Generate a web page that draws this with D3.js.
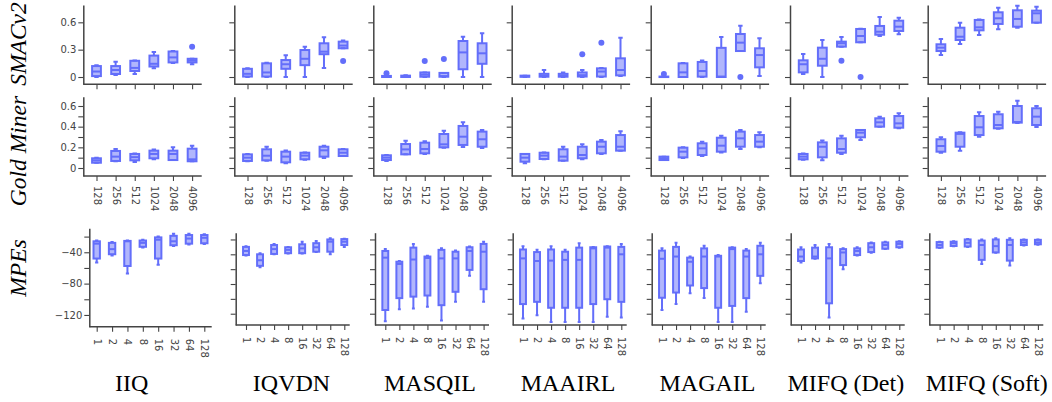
<!DOCTYPE html>
<html>
<head>
<meta charset="utf-8">
<script src="https://cdn.jsdelivr.net/npm/d3@7"></script>
<style>
body { margin: 0; background: #fff; }
svg { display: block; }
</style>
</head>
<body>
<div id="chart"></div>
<script>
var methods = ['IIQ', 'IQVDN', 'MASQIL', 'MAAIRL', 'MAGAIL', 'MIFQ (Det)', 'MIFQ (Soft)'];
var envNames = ['SMACv2', 'Gold Miner', 'MPEs'];
var datasetSizes = ['128', '256', '512', '1024', '2048', '4096'];
var agentCounts = ['1', '2', '4', '8', '16', '32', '64', '128'];

// box stats per method: [low whisker, q1, median, q3, high whisker]
var smacv2Stats = [
    [[0.0,0.01,0.06,0.12,0.13],[0.022,0.033,0.077,0.12,0.168],[0.033,0.066,0.10,0.178,0.18],[0.095,0.115,0.145,0.235,0.275],[0.155,0.16,0.215,0.28,0.285],[0.14,0.16,0.18,0.20,0.20]],
    [[0.0,0.005,0.035,0.09,0.095],[0.0,0.005,0.05,0.15,0.157],[0.0,0.09,0.14,0.186,0.24],[0.0,0.13,0.2,0.296,0.333],[0.1,0.25,0.278,0.37,0.436],[0.315,0.315,0.345,0.388,0.40]],
    [[0,0,0.003,0.012,0.015],[0,0,0.005,0.015,0.02],[0,0.003,0.025,0.05,0.05],[0,0.003,0.01,0.045,0.045],[0.0,0.085,0.27,0.395,0.442],[0.0,0.145,0.26,0.37,0.48]],
    [[0,0.002,0.008,0.015,0.015],[0,0.003,0.015,0.035,0.077],[0,0.003,0.015,0.035,0.05],[0,0.005,0.02,0.05,0.076],[0,0.005,0.06,0.095,0.10],[0.01,0.018,0.077,0.205,0.432]],
    [[0,0,0,0.005,0.005],[0,0.0,0.051,0.15,0.155],[0,0.004,0.066,0.165,0.18],[0,0.0,0.005,0.32,0.44],[0.285,0.285,0.377,0.472,0.563],[0.01,0.106,0.241,0.315,0.425]],
    [[0.033,0.051,0.14,0.183,0.252],[0,0.124,0.2,0.322,0.406],[0.333,0.333,0.37,0.388,0.44],[0.381,0.381,0.45,0.527,0.53],[0.45,0.464,0.497,0.56,0.659],[0.469,0.505,0.552,0.618,0.651]],
    [[0.241,0.285,0.322,0.359,0.417],[0.362,0.406,0.442,0.541,0.596],[0.461,0.512,0.545,0.626,0.63],[0.523,0.582,0.644,0.71,0.761],[0.541,0.552,0.637,0.732,0.783],[0.596,0.596,0.699,0.728,0.772]]
];
// [method index, category, value]
var smacv2Outliers = [
    [0,'4096',0.333],[1,'4096',0.176],[2,'128',0.04],[2,'512',0.176],[2,'1024',0.198],
    [3,'1024',0.249],[3,'2048',0.377],[4,'128',0.033],[4,'2048',0.0],[5,'512',0.179],[5,'1024',0.0]
];

var goldMinerStats = [
    [[0.05,0.051,0.074,0.094,0.1],[0.065,0.068,0.11,0.165,0.184],[0.058,0.074,0.105,0.136,0.14],[0.084,0.094,0.136,0.168,0.18],[0.077,0.077,0.136,0.168,0.2],[0.065,0.065,0.084,0.187,0.216]],
    [[0.065,0.068,0.1,0.132,0.135],[0.07,0.074,0.119,0.181,0.206],[0.045,0.055,0.11,0.158,0.17],[0.08,0.084,0.12,0.148,0.15],[0.097,0.11,0.171,0.206,0.215],[0.116,0.116,0.148,0.181,0.185]],
    [[0.068,0.077,0.1,0.123,0.125],[0.132,0.132,0.18,0.232,0.264],[0.136,0.142,0.184,0.245,0.258],[0.195,0.2,0.229,0.329,0.361],[0.203,0.223,0.303,0.407,0.442],[0.194,0.206,0.278,0.352,0.368]],
    [[0.045,0.061,0.1,0.136,0.136],[0.085,0.087,0.12,0.148,0.15],[0.071,0.071,0.11,0.181,0.206],[0.085,0.094,0.126,0.206,0.229],[0.135,0.142,0.206,0.255,0.271],[0.168,0.168,0.206,0.319,0.355]],
    [[0.077,0.077,0.094,0.11,0.11],[0.097,0.103,0.158,0.197,0.2],[0.116,0.126,0.19,0.239,0.255],[0.15,0.158,0.216,0.293,0.313],[0.184,0.206,0.287,0.352,0.368],[0.2,0.206,0.255,0.319,0.345]],
    [[0.08,0.084,0.11,0.136,0.14],[0.074,0.103,0.206,0.248,0.265],[0.136,0.148,0.184,0.287,0.313],[0.271,0.297,0.342,0.368,0.368],[0.4,0.4,0.442,0.481,0.497],[0.384,0.39,0.432,0.503,0.529]],
    [[0.148,0.158,0.213,0.278,0.297],[0.168,0.206,0.33,0.342,0.345],[0.303,0.319,0.394,0.503,0.539],[0.38,0.384,0.416,0.52,0.545],[0.435,0.439,0.445,0.6,0.652],[0.397,0.416,0.497,0.578,0.6]]
];
var goldMinerOutliers = [];

var mpesStats = [
    [[-53,-48,-29,-26,-25],[-44,-42.5,-36,-28,-27],[-67,-57.5,-26,-25.5,-25],[-34,-33,-28,-25,-24],[-56,-48,-24,-21,-20],[-32,-31,-26,-19,-16.5],[-30,-29,-22.5,-18,-16.5],[-29.5,-28.5,-21.5,-18,-17]],
    [[-41.5,-41,-35.5,-30,-29],[-57.5,-55.5,-48,-40,-38.5],[-40,-39.5,-33,-27.5,-26],[-39,-38.5,-34,-30.5,-30],[-39,-38.5,-32,-26.5,-23],[-37,-36.5,-30.5,-25,-22],[-40,-36.5,-23,-20,-18.5],[-30,-27.5,-23,-19.5,-19]],
    [[-130,-115,-44.5,-35.5,-33],[-114,-99,-53,-50,-49],[-113,-97,-47,-31,-26],[-110.5,-95.5,-45,-43,-42],[-129,-108.5,-45.5,-34,-32],[-104,-90.5,-45.5,-36.5,-35],[-69,-61,-35.5,-30.5,-29.5],[-104,-87,-36.5,-26,-23]],
    [[-126.5,-107,-45.5,-33.5,-29],[-122,-104,-49,-37,-34],[-131,-112,-48.5,-33.5,-29],[-131,-112,-47.5,-36.5,-34],[-131,-112,-47.5,-31,-25],[-131,-107,-32,-30.5,-30],[-124,-100.5,-31,-29.5,-29],[-125,-104,-40,-30,-26]],
    [[-115,-98.5,-46,-35,-32],[-107,-91.5,-43,-30,-24.5],[-92.5,-82,-50,-44.5,-43],[-99,-85.5,-43,-32,-28.5],[-131,-112,-43,-42,-41],[-131,-109.5,-33,-31,-30.5],[-117.5,-99,-43,-35,-33],[-79,-69,-40,-28.5,-24.5]],
    [[-51,-49,-43,-33.5,-30.5],[-46,-45.5,-43,-31,-27.5],[-125,-106,-45.5,-30.5,-26],[-60,-54.5,-37.5,-33,-32],[-41.5,-41,-35.5,-32,-30.5],[-38,-37,-30.5,-25,-24],[-33,-32.5,-27.5,-24,-23],[-31,-30.5,-26,-23,-22.5]],
    [[-31.5,-31,-27.5,-23.5,-23],[-29,-28.8,-25,-23,-22.5],[-30,-29.5,-24.5,-20,-19.5],[-53,-47.5,-27.5,-21.5,-20],[-38,-37.5,-29,-20,-18.5],[-55,-48.5,-27.5,-20.5,-18.5],[-28,-27.5,-24,-20.5,-20],[-27,-26.5,-24,-20.5,-20]]
];
var mpesOutliers = [];

// y ticks per environment (all ticks, labelled ones)
var smacv2Ticks = [0, 0.3, 0.6], smacv2Labels = [0, 0.3, 0.6];
var goldMinerTicks = [0, 0.1, 0.2, 0.3, 0.4, 0.5, 0.6], goldMinerLabels = [0, 0.2, 0.4, 0.6];
var mpesTicks = [-120, -100, -80, -60, -40, -20], mpesLabels = [-120, -80, -40];

// layout (pixel geometry of the panels)
var colLeft = [83.3, 234.3, 373.3, 511.7, 650.7, 790, 927.7];
var mpeColLeft = [89.3, 235.7, 375, 512.7, 651.7, 790.7, 929.3];
var titleX = [131.7, 291.5, 430, 568, 707.5, 845.8, 986.7];
var color = '#636efa';
var axisColor = '#444';
var tickFont = '"DejaVu Sans", Verdana, sans-serif';

var svg = d3.select('#chart')
    .append('svg')
    .attr('width', 1052)
    .attr('height', 402);

var fmt = d3.format('');

function drawPanel(p) {
    var x = d3.scalePoint()
        .domain(p.cats)
        .range([p.x0 + p.xr[0], p.x0 + p.xr[1]]);
    var y = d3.scaleLinear()
        .domain(p.domain)
        .range([p.bottom, p.top]);

    var g = svg.append('g');

    // y axis
    var yAxis = d3.axisLeft(y)
        .tickValues(p.ticks)
        .tickSize(5)
        .tickSizeOuter(0)
        .tickPadding(2)
        .tickFormat(function(d){ return (p.showY && p.labels.indexOf(d) >= 0) ? fmt(d) : ''; });
    var ya = g.append('g')
        .attr('transform', 'translate(' + p.x0 + ',0)')
        .call(yAxis);
    ya.select('.domain').attr('stroke', axisColor).attr('stroke-width', 1.5);
    ya.selectAll('.tick line').attr('stroke', axisColor).attr('stroke-width', 1.1);
    ya.selectAll('.tick text')
        .attr('fill', axisColor)
        .style('font-family', tickFont)
        .style('font-size', '10px');

    // x axis line spans the whole panel
    g.append('line')
        .attr('x1', p.x0).attr('x2', p.x0 + p.w)
        .attr('y1', p.bottom).attr('y2', p.bottom)
        .attr('stroke', axisColor)
        .attr('stroke-width', 1.5);

    var xAxis = d3.axisBottom(x)
        .tickSize(5)
        .tickSizeOuter(0)
        .tickFormat(function(d){ return p.showX ? d : ''; });
    var xa = g.append('g')
        .attr('transform', 'translate(0,' + p.bottom + ')')
        .call(xAxis);
    xa.select('.domain').remove();
    xa.selectAll('.tick line').attr('stroke', axisColor).attr('stroke-width', 1.1);
    xa.selectAll('.tick text')
        .attr('fill', axisColor)
        .attr('transform', 'rotate(90)')
        .attr('x', p.labelGap)
        .attr('y', 0)
        .attr('dy', '0.35em')
        .style('text-anchor', 'start')
        .style('font-family', tickFont)
        .style('font-size', '10px');

    // boxes
    var hw = p.boxW / 2;
    var boxes = g.selectAll('g.box')
        .data(p.stats)
        .enter()
        .append('g')
        .attr('class', 'box')
        .attr('transform', function(d, i){ return 'translate(' + x(p.cats[i]) + ',0)'; });

    boxes.append('path')
        .attr('d', function(d){
            var lo = y(d[0]), q1 = y(d[1]), q3 = y(d[3]), hi = y(d[4]);
            return 'M0,' + q1 + 'V' + lo + 'M' + (-hw/2) + ',' + lo + 'H' + (hw/2) +
                   'M0,' + q3 + 'V' + hi + 'M' + (-hw/2) + ',' + hi + 'H' + (hw/2);
        })
        .attr('fill', 'none')
        .attr('stroke', color)
        .attr('stroke-width', 2);

    boxes.append('rect')
        .attr('x', -hw)
        .attr('width', p.boxW)
        .attr('y', function(d){ return y(d[3]); })
        .attr('height', function(d){ return Math.max(0.5, y(d[1]) - y(d[3])); })
        .attr('fill', color)
        .attr('fill-opacity', 0.5)
        .attr('stroke', color)
        .attr('stroke-width', 2);

    boxes.append('line')
        .attr('x1', -hw).attr('x2', hw)
        .attr('y1', function(d){ return y(d[2]); })
        .attr('y2', function(d){ return y(d[2]); })
        .attr('stroke', color)
        .attr('stroke-width', 2);

    g.selectAll('circle.outlier')
        .data(p.outliers)
        .enter()
        .append('circle')
        .attr('class', 'outlier')
        .attr('cx', function(d){ return x(d[1]); })
        .attr('cy', function(d){ return y(d[2]); })
        .attr('r', 3)
        .attr('fill', color);
}

methods.forEach(function(m, c){
    // SMACv2
    drawPanel({
        x0: colLeft[c], w: 118.4, top: 5, bottom: 84.3,
        domain: [-0.08, 0.79], cats: datasetSizes, xr: [13.2, 108.8],
        stats: smacv2Stats[c],
        outliers: smacv2Outliers.filter(function(o){ return o[0] === c; }),
        ticks: smacv2Ticks, labels: smacv2Labels,
        showY: c === 0, showX: false, boxW: 8.8, labelGap: 12
    });
    // Gold Miner
    drawPanel({
        x0: colLeft[c], w: 118.4, top: 96.7, bottom: 176,
        domain: [-0.0774, 0.69], cats: datasetSizes, xr: [13.2, 108.8],
        stats: goldMinerStats[c],
        outliers: goldMinerOutliers.filter(function(o){ return o[0] === c; }),
        ticks: goldMinerTicks, labels: goldMinerLabels,
        showY: c === 0, showX: true, boxW: 8.8, labelGap: 10
    });
    // MPEs
    var first = c === 0;
    drawPanel({
        x0: mpeColLeft[c], w: first ? 122.4 : 114,
        top: first ? 228.3 : 232.7, bottom: first ? 326.7 : 325,
        domain: first ? [-135, -9.4] : [-135.2, -10.9],
        cats: agentCounts, xr: first ? [7.4, 115] : [10.3, 108.6],
        stats: mpesStats[c],
        outliers: mpesOutliers.filter(function(o){ return o[0] === c; }),
        ticks: mpesTicks, labels: mpesLabels,
        showY: first, showX: true, boxW: first ? 6.4 : 5.9, labelGap: 12
    });

    svg.append('text')
        .attr('x', titleX[c])
        .attr('y', 391)
        .attr('text-anchor', 'middle')
        .style('font-family', '"Liberation Serif", "Times New Roman", serif')
        .style('font-size', '24px')
        .attr('fill', '#000')
        .text(m);
});

// row labels
var rowLabelY = [44, 151, 268];
envNames.forEach(function(e, r){
    svg.append('text')
        .attr('transform', 'translate(26,' + rowLabelY[r] + ') rotate(-90)')
        .attr('text-anchor', 'middle')
        .style('font-family', '"Liberation Serif", "Times New Roman", serif')
        .style('font-style', 'italic')
        .style('font-size', '23.5px')
        .attr('fill', '#000')
        .text(e);
});
</script>
</body>
</html>
